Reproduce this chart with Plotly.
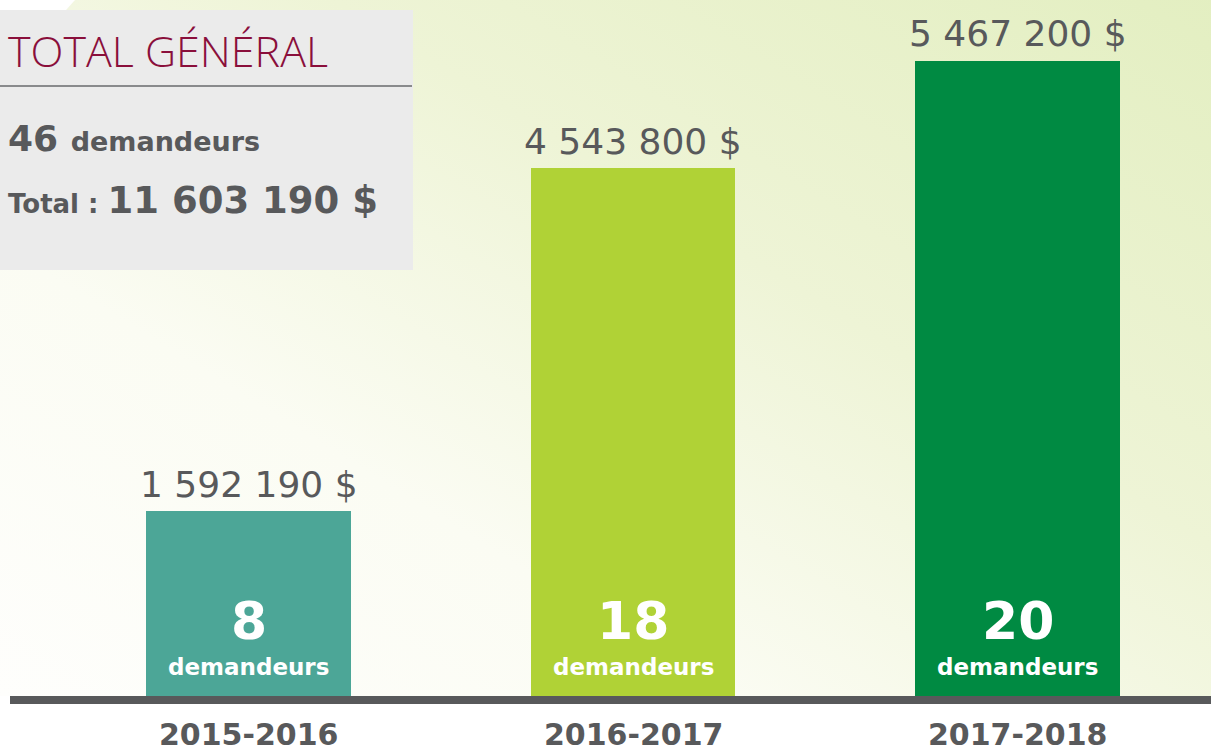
import base64
import plotly.graph_objects as go

# data
years = ["2015-2016", "2016-2017", "2017-2018"]
amounts = [1592190, 4543800, 5467200]
applicants = [8, 18, 20]
amount_labels = ["1 592 190 $", "4 543 800 $", "5 467 200 $"]
total_applicants = 46
total_label = "11 603 190 $"

BAR_COLORS = ["#4ca697", "#b0d236", "#008a42"]
GREY_TEXT = "#58595b"
MAROON = "#8a0f3b"
FONT = "DejaVu Sans"

W, H = 1211, 752
PLOT_H = 696  # plot area height (baseline position)

# background: diagonal gradient, white bottom-left to light green top-right
svg = f"""<svg xmlns='http://www.w3.org/2000/svg' width='{W}' height='{H}' viewBox='0 0 {W} {H}' preserveAspectRatio='none'>
<defs><linearGradient id='g' x1='0' y1='1' x2='1' y2='0'>
<stop offset='0' stop-color='#fefefc'/>
<stop offset='0.3' stop-color='#fbfcf3'/>
<stop offset='0.6' stop-color='#eef4d6'/>
<stop offset='1' stop-color='#e2eebf'/>
</linearGradient></defs>
<rect width='{W}' height='{H}' fill='url(#g)'/>
<polygon points='0,0 125,0 0,140' fill='#ffffff'/>
</svg>"""
bg_src = "data:image/svg+xml;base64," + base64.b64encode(svg.encode()).decode()

fig = go.Figure()

fig.add_trace(
    go.Bar(
        x=years,
        y=amounts,
        width=0.533,
        marker=dict(color=BAR_COLORS, line=dict(width=0)),
        hoverinfo="skip",
        showlegend=False,
    )
)

annotations = []
for yr, amt, lab, n in zip(years, amounts, amount_labels, applicants):
    # amount above the bar
    annotations.append(dict(
        x=yr, y=amt, xref="x", yref="y", text=lab, showarrow=False,
        yanchor="middle", yshift=27,
        font=dict(family=FONT, size=36, color=GREY_TEXT),
    ))
    # number of applicants inside the bar
    annotations.append(dict(
        x=yr, y=0, xref="x", yref="y", text=str(n), showarrow=False,
        yanchor="middle", yshift=75,
        font=dict(family=FONT, size=52, color="white", weight="bold"),
    ))
    annotations.append(dict(
        x=yr, y=0, xref="x", yref="y", text="demandeurs", showarrow=False,
        yanchor="middle", yshift=29,
        font=dict(family=FONT, size=23, color="white", weight="bold"),
    ))
    # year below the baseline
    annotations.append(dict(
        x=yr, y=0, xref="x", yref="paper", text=yr, showarrow=False,
        yanchor="middle", yshift=-38,
        font=dict(family=FONT, size=30, color=GREY_TEXT, weight="bold"),
    ))

# summary box
def py(px):
    return (PLOT_H - px) / PLOT_H

annotations += [
    dict(x=6 / W, y=py(50), xref="paper", yref="paper", xanchor="left",
         yanchor="middle", showarrow=False, text="TOTAL GÉNÉRAL",
         font=dict(family="Open Sans", size=43, color=MAROON, weight=300)),
    dict(x=6 / W, y=py(138), xref="paper", yref="paper", xanchor="left",
         yanchor="middle", showarrow=False,
         text=f"{total_applicants} <span style='font-size:27px'>demandeurs</span>",
         font=dict(family=FONT, size=36, color=GREY_TEXT, weight="bold")),
    dict(x=6 / W, y=py(200), xref="paper", yref="paper", xanchor="left",
         yanchor="middle", showarrow=False,
         text=f"<span style='font-size:26px'>Total : </span>{total_label}",
         font=dict(family=FONT, size=37, color=GREY_TEXT, weight="bold")),
]

shapes = [
    dict(type="rect", xref="paper", yref="paper", x0=0, x1=413 / W,
         y0=py(270), y1=py(10), fillcolor="#ebebeb", line=dict(width=0)),
    dict(type="rect", xref="paper", yref="paper", x0=0, x1=412 / W,
         y0=py(87), y1=py(85), fillcolor="#898a8c", line=dict(width=0)),
    # baseline
    dict(type="rect", xref="paper", yref="paper", x0=10 / W, x1=1,
         y0=py(704), y1=py(696), fillcolor="#58595b", line=dict(width=0)),
]

fig.update_layout(
    width=W,
    height=H,
    margin=dict(l=0, r=0, t=0, b=H - PLOT_H),
    paper_bgcolor="white",
    plot_bgcolor="rgba(0,0,0,0)",
    xaxis=dict(type="category", range=[-0.6463, 2.5032], showticklabels=False,
               showgrid=False, zeroline=False, showline=False, fixedrange=True),
    yaxis=dict(range=[0, 5990000], visible=False, showgrid=False,
               zeroline=False, fixedrange=True),
    images=[dict(source=bg_src, xref="paper", yref="paper", x=0, y=H / PLOT_H,
                 sizex=1, sizey=H / PLOT_H, sizing="stretch", xanchor="left",
                 yanchor="top", layer="below")],
    shapes=shapes,
    annotations=annotations,
    bargap=0,
)

fig.write_html(
    "out.html",
    config={"displayModeBar": False},
    post_script="document.body.style.margin='0';document.body.style.overflow='hidden';",
)
